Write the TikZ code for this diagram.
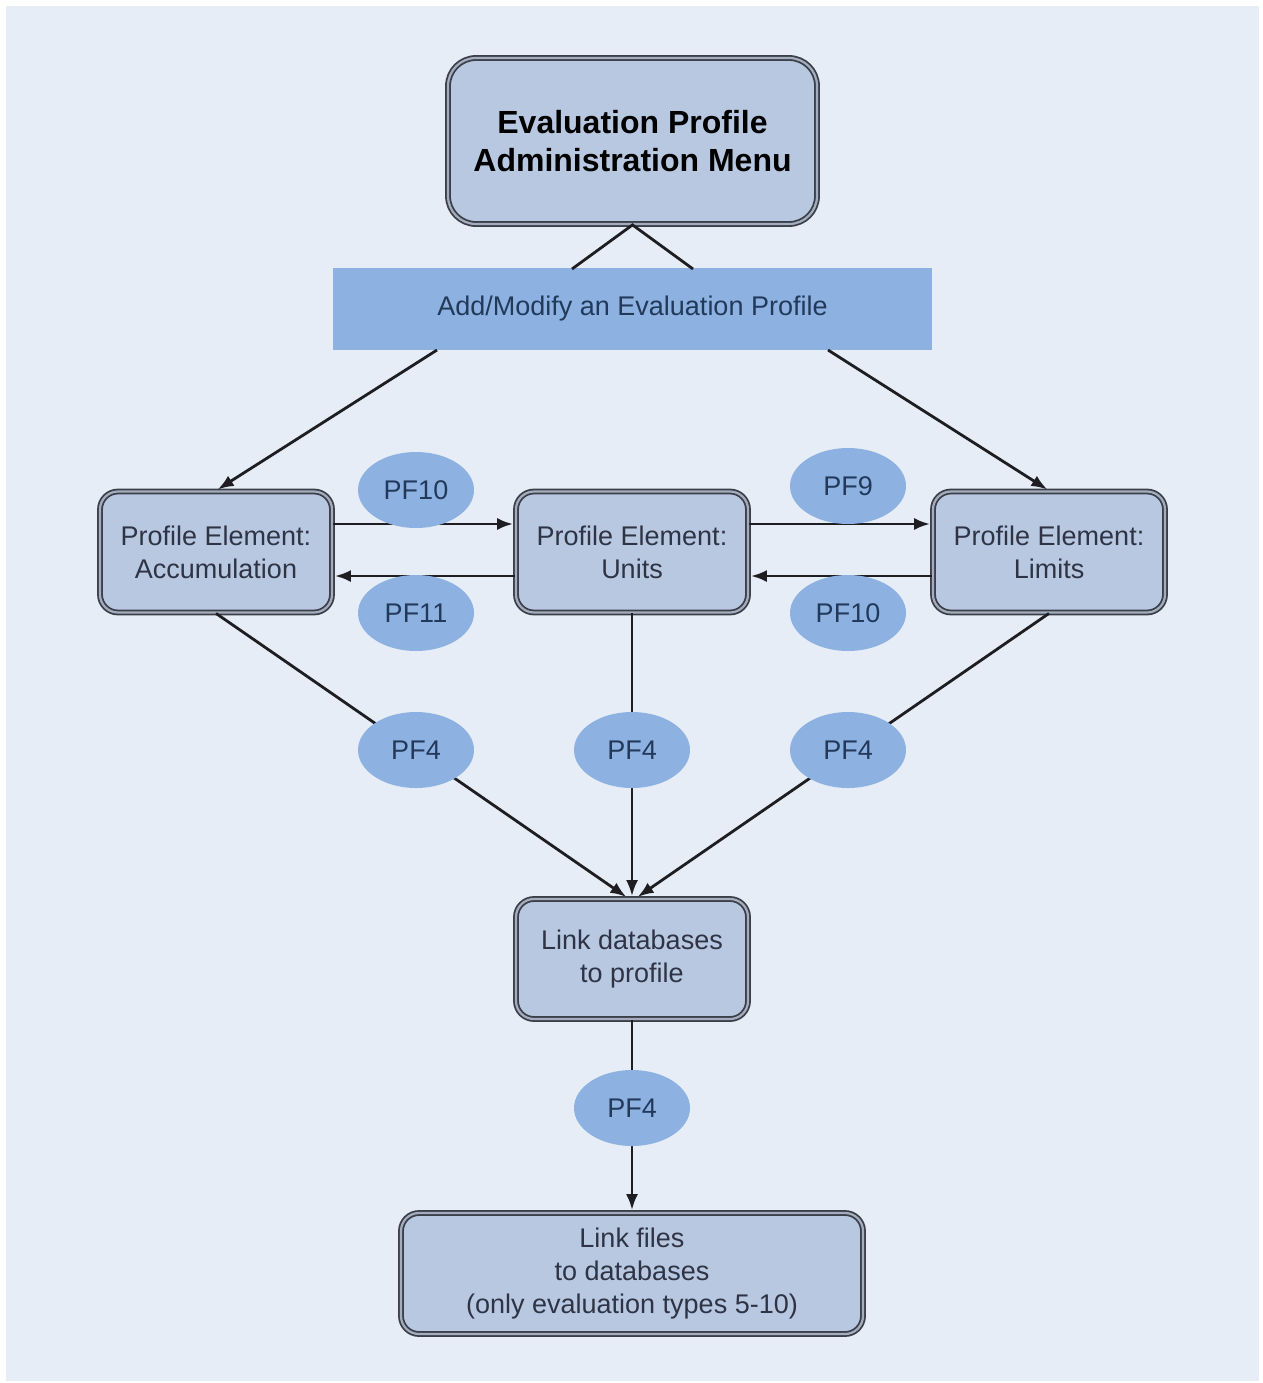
\documentclass[tikz,border=0pt]{standalone}
\usepackage{fontspec}
\setmainfont{Liberation Sans}
\usetikzlibrary{shapes.geometric,arrows.meta,calc}
\definecolor{bg}{HTML}{E6EDF7}
\definecolor{boxfill}{HTML}{B8C8E1}
\definecolor{bluefill}{HTML}{8DB2E2}
\definecolor{edge}{HTML}{3A3F48}
\definecolor{gap}{HTML}{A3ADBE}
\definecolor{txt}{HTML}{2E3445}
\definecolor{btxt}{HTML}{22395A}
\definecolor{linec}{HTML}{1E1E22}
\begin{document}
\begin{tikzpicture}[x=1pt,y=-1pt,
  box/.style={rectangle, rounded corners=18pt, draw=edge, double=gap, double distance=2.2pt, line width=1.8pt, fill=boxfill, align=center, inner sep=0pt, text=txt, font=\fontsize{27}{33}\selectfont},
  lab/.style={ellipse, fill=bluefill, minimum width=116pt, minimum height=76pt, inner sep=0pt, text=btxt, font=\fontsize{27}{32}\selectfont},
  plain/.style={line width=2.8pt, draw=linec},
  conn/.style={plain, -{Latex[length=16pt,width=12pt]}, shorten >=2pt}
]
\useasboundingbox (0,0) rectangle (1262,1383);
\fill[white] (0,0) rectangle (1262,1383);
\fill[bg] (6,6) rectangle (1259,1381);

% boxes
\node[box, rounded corners=28pt, minimum width=369pt, minimum height=166pt, text=black, font=\bfseries\fontsize{32}{38}\selectfont] (top) at (632.5,141) {Evaluation Profile\\Administration Menu};
\node[fill=bluefill, minimum width=599pt, minimum height=82pt, inner sep=0pt, text=btxt, font=\fontsize{27}{32}\selectfont] (ban) at (632.5,309) {Add/Modify an Evaluation Profile};
\node[box, minimum width=232pt, minimum height=121pt] (acc) at (216,552) {Profile Element:\\Accumulation};
\node[box, minimum width=232pt, minimum height=121pt] (uni) at (632,552) {Profile Element:\\Units};
\node[box, minimum width=232pt, minimum height=121pt] (lim) at (1049,552) {Profile Element:\\Limits};
\node[box, minimum width=232pt, minimum height=120pt] (ldb) at (632,959) {Link databases\\to profile};
\node[box, minimum width=462pt, minimum height=121pt] (lfi) at (632,1273.5) {Link files\\to databases\\(only evaluation types 5-10)};

% connectors
\coordinate (v1) at (572,269);
\coordinate (v2) at (693,269);
\draw[plain] (v1) -- (top.south) -- (v2);
\coordinate (b1) at (437,350);
\coordinate (b2) at (828,350);
\draw[conn] (b1) -- (acc.north);
\draw[conn] (b2) -- (lim.north);

\draw[conn] ($(acc.east)+(0,-28)$) -- ($(uni.west)+(0,-28)$);
\draw[conn] ($(uni.west)+(0,24)$) -- ($(acc.east)+(0,24)$);
\draw[conn] ($(uni.east)+(0,-28)$) -- ($(lim.west)+(0,-28)$);
\draw[conn] ($(lim.west)+(0,24)$) -- ($(uni.east)+(0,24)$);

\draw[conn] (acc.south) -- ($(ldb.north)+(-4,0)$);
\draw[conn] (uni.south) -- (ldb.north);
\draw[conn] (lim.south) -- ($(ldb.north)+(4,0)$);
\draw[conn] (ldb.south) -- (lfi.north);

% labels
\node[lab] (l1) at (416,490) {PF10};
\node[lab] (l2) at (416,613) {PF11};
\node[lab] (l3) at (848,486) {PF9};
\node[lab] (l4) at (848,613) {PF10};
\node[lab] (l5) at (416,750) {PF4};
\node[lab] (l6) at (632,750) {PF4};
\node[lab] (l7) at (848,750) {PF4};
\node[lab] (l8) at (632,1108) {PF4};
\end{tikzpicture}
\end{document}
